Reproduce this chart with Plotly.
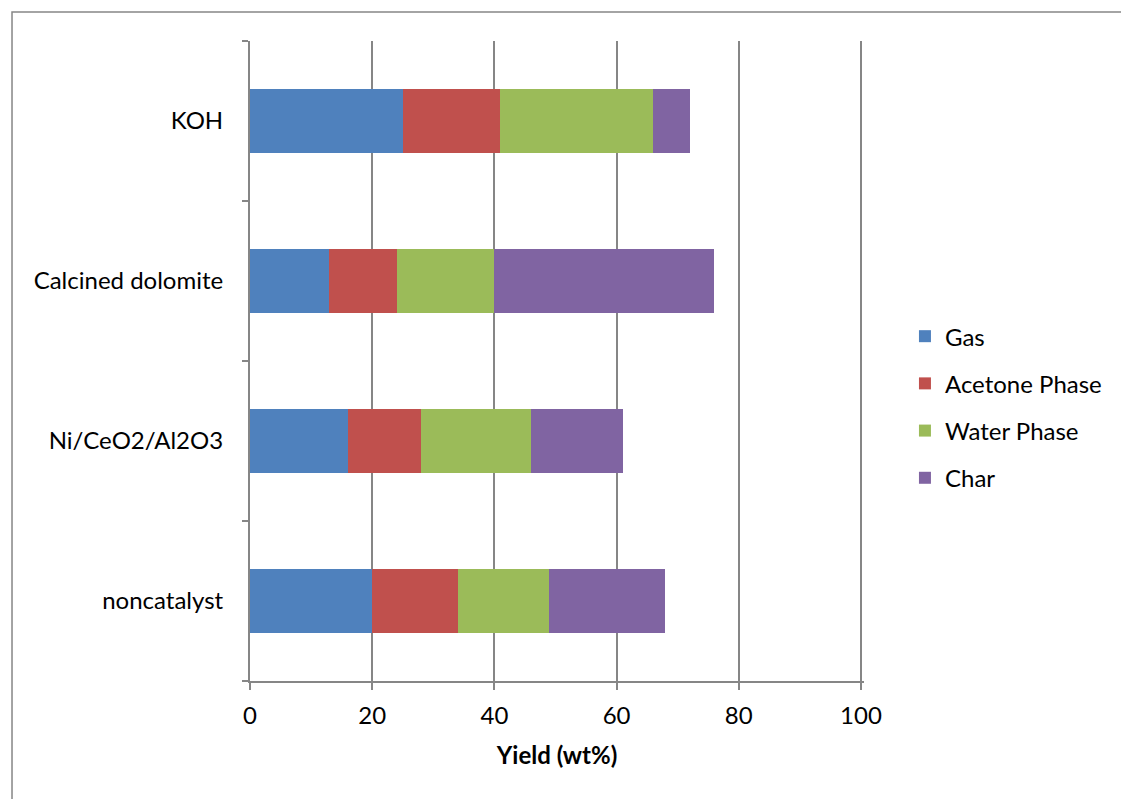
import plotly.graph_objects as go

# Catalyst categories, bottom to top
categories = ["noncatalyst", "Ni/CeO2/Al2O3", "Calcined dolomite", "KOH"]

# Product yields (wt%) per category
gas = [20, 16, 13, 25]
acetone_phase = [14, 12, 11, 16]
water_phase = [15, 18, 16, 25]
char = [19, 15, 36, 6]

series_names = ["Gas", "Acetone Phase", "Water Phase", "Char"]
series_values = [gas, acetone_phase, water_phase, char]
series_colors = ["#4F81BD", "#C0504D", "#9BBB59", "#8064A2"]

x_ticks = [0, 20, 40, 60, 80, 100]

FONT = "Lato, 'Open Sans', sans-serif"
AXIS_GRAY = "#868686"
FS = 24

fig = go.Figure()
for name, vals, color in zip(series_names, series_values, series_colors):
    fig.add_trace(go.Bar(
        y=categories,
        x=vals,
        name=name,
        orientation="h",
        width=0.4,
        marker=dict(color=color, line=dict(width=0)),
        legendgroup=name,
    ))

fig.update_layout(
    barmode="stack",
    width=1121,
    height=799,
    margin=dict(l=250, r=257, t=41, b=118),
    paper_bgcolor="white",
    plot_bgcolor="white",
    font=dict(family=FONT, size=FS, color="#000000"),
    showlegend=True,
    legend=dict(
        x=1.0667, xanchor="left",
        y=0.428, yanchor="middle",
        traceorder="grouped",
        tracegroupgap=13,
        font=dict(family=FONT, size=FS, color="#000000"),
        itemwidth=30,
    ),
    xaxis=dict(
        # slightly past 100 so the gridline at 100 is drawn
        range=[0, 100.5],
        tickvals=x_ticks,
        ticktext=[str(v) for v in x_ticks],
        showgrid=True,
        gridcolor=AXIS_GRAY,
        gridwidth=2,
        showline=True,
        linecolor=AXIS_GRAY,
        linewidth=2,
        ticks="outside",
        ticklen=7,
        tickwidth=1.5,
        tickcolor=AXIS_GRAY,
        zeroline=False,
        tickfont=dict(family=FONT, size=FS),
        ticklabelstandoff=5,
        title=dict(text="<b>Yield (wt%)</b>", font=dict(family=FONT, size=FS), standoff=19),
    ),
    yaxis=dict(
        type="category",
        categoryorder="array",
        categoryarray=categories,
        range=[-0.5, 3.5],
        showline=True,
        linecolor=AXIS_GRAY,
        linewidth=2,
        ticks="outside",
        tickson="boundaries",
        ticklen=6,
        tickwidth=1.5,
        tickcolor=AXIS_GRAY,
        showgrid=False,
        tickfont=dict(family=FONT, size=FS),
        ticklabelstandoff=20,
    ),
    shapes=[
        dict(
            type="rect", xref="paper", yref="paper",
            x0=-0.3876, x1=1.6, y0=-0.5, y1=1.0453,
            line=dict(color=AXIS_GRAY, width=1.5),
            fillcolor="rgba(0,0,0,0)",
            layer="below",
        )
    ],
)

fig.write_html("out.html")
